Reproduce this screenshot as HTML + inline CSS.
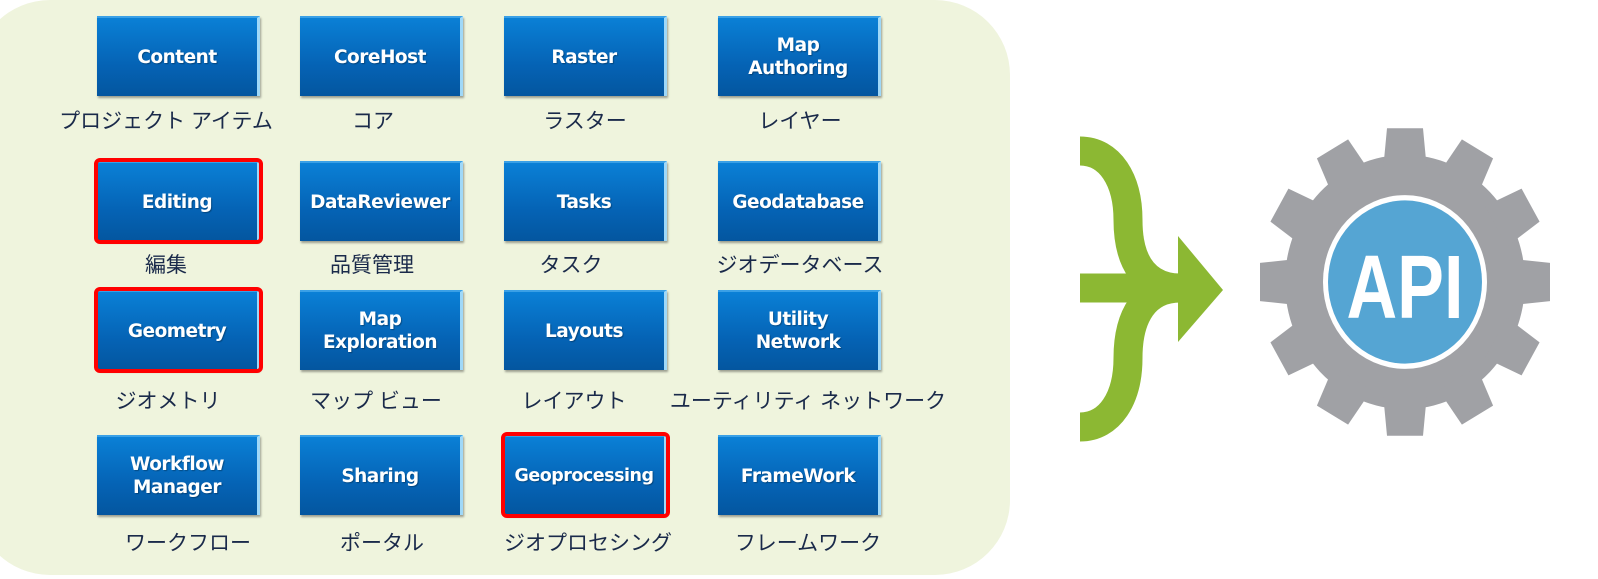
<!DOCTYPE html>
<html><head><meta charset="utf-8"><style>
body{margin:0;width:1598px;height:579px;background:#fff;position:relative;overflow:hidden;font-family:"Liberation Sans","Noto Sans CJK JP",sans-serif}
.panel{position:absolute;left:-25px;top:0;width:1035px;height:575px;background:#eff4dd;border-radius:75px}
.b{position:absolute;width:163px;height:80px;box-sizing:border-box;background:linear-gradient(#0a80d6,#0563b5 60%,#04569f);border-right:3px solid #9fd8f8;border-top:2px solid #3aa0e6;box-shadow:1px 2px 2px rgba(0,0,0,.35);color:#fff;font-weight:bold;font-size:18.5px;font-family:"DejaVu Sans",sans-serif;letter-spacing:-0.5px;display:flex;align-items:center;justify-content:center;text-align:center;line-height:23px;text-shadow:1px 1px 1px rgba(0,0,0,.3);white-space:nowrap}
.r{outline:4px solid #f00;outline-offset:-1px;border-radius:3px}
.l{position:absolute;width:300px;margin-left:-150px;text-align:center;font-size:21px;color:#1a2a4a;white-space:nowrap}
</style></head><body>
<div class="panel"></div>
<div class="b" style="left:97px;top:16px">Content</div>
<div class="b" style="left:300px;top:16px">CoreHost</div>
<div class="b" style="left:504px;top:16px">Raster</div>
<div class="b" style="left:718px;top:16px">Map<br>Authoring</div>
<div class="b r" style="left:97px;top:161px">Editing</div>
<div class="b" style="left:300px;top:161px">DataReviewer</div>
<div class="b" style="left:504px;top:161px">Tasks</div>
<div class="b" style="left:718px;top:161px">Geodatabase</div>
<div class="b r" style="left:97px;top:290px">Geometry</div>
<div class="b" style="left:300px;top:290px">Map<br>Exploration</div>
<div class="b" style="left:504px;top:290px">Layouts</div>
<div class="b" style="left:718px;top:290px">Utility<br>Network</div>
<div class="b" style="left:97px;top:435px">Workflow<br>Manager</div>
<div class="b" style="left:300px;top:435px">Sharing</div>
<div class="b r" style="left:504px;top:435px;font-size:17.5px">Geoprocessing</div>
<div class="b" style="left:718px;top:435px">FrameWork</div>

<div class="l" style="left:166px;top:105px">プロジェクト アイテム</div>
<div class="l" style="left:373px;top:105px">コア</div>
<div class="l" style="left:585px;top:105px">ラスター</div>
<div class="l" style="left:800px;top:105px">レイヤー</div>
<div class="l" style="left:166px;top:249px">編集</div>
<div class="l" style="left:372px;top:249px">品質管理</div>
<div class="l" style="left:571px;top:249px">タスク</div>
<div class="l" style="left:800px;top:249px">ジオデータベース</div>
<div class="l" style="left:168px;top:385px">ジオメトリ</div>
<div class="l" style="left:376px;top:385px">マップ ビュー</div>
<div class="l" style="left:574px;top:385px">レイアウト</div>
<div class="l" style="left:808px;top:385px">ユーティリティ ネットワーク</div>
<div class="l" style="left:188px;top:527px">ワークフロー</div>
<div class="l" style="left:382px;top:527px">ポータル</div>
<div class="l" style="left:588px;top:527px">ジオプロセシング</div>
<div class="l" style="left:808px;top:527px">フレームワーク</div>

<svg style="position:absolute;left:0;top:0" width="1598" height="579">
 <g fill="none" stroke="#8cb833" stroke-width="29">
  <path d="M1080 151 C1110 151 1128 180 1128 220 C1128 262 1145 288 1180 288"/>
  <path d="M1080 427 C1110 427 1128 398 1128 358 C1128 316 1145 288 1180 288"/>
  <path d="M1080 288 L1180 288"/>
 </g>
 <polygon points="1178,236 1223,290 1178,342" fill="#8cb833"/>
 <g transform="translate(1405,282) scale(1,1.06)">
  <g fill="#a0a1a5">
   <circle r="120"/>
   <g id="t"><polygon points="-18,-145 18,-145 22,-105 -22,-105"/></g>
   <use href="#t" transform="rotate(30)"/><use href="#t" transform="rotate(60)"/><use href="#t" transform="rotate(90)"/>
   <use href="#t" transform="rotate(120)"/><use href="#t" transform="rotate(150)"/><use href="#t" transform="rotate(180)"/>
   <use href="#t" transform="rotate(210)"/><use href="#t" transform="rotate(240)"/><use href="#t" transform="rotate(270)"/>
   <use href="#t" transform="rotate(300)"/><use href="#t" transform="rotate(330)"/>
  </g>
  <circle r="82" fill="#fff"/>
  <circle r="77" fill="#55a5d3"/>
 </g>
 <text x="1405" y="318" text-anchor="middle" font-family="Liberation Sans,sans-serif" font-weight="bold" font-size="90" fill="#fff" transform="translate(1405,0) scale(0.78,1) translate(-1405,0)">API</text>
</svg>
</body></html>
